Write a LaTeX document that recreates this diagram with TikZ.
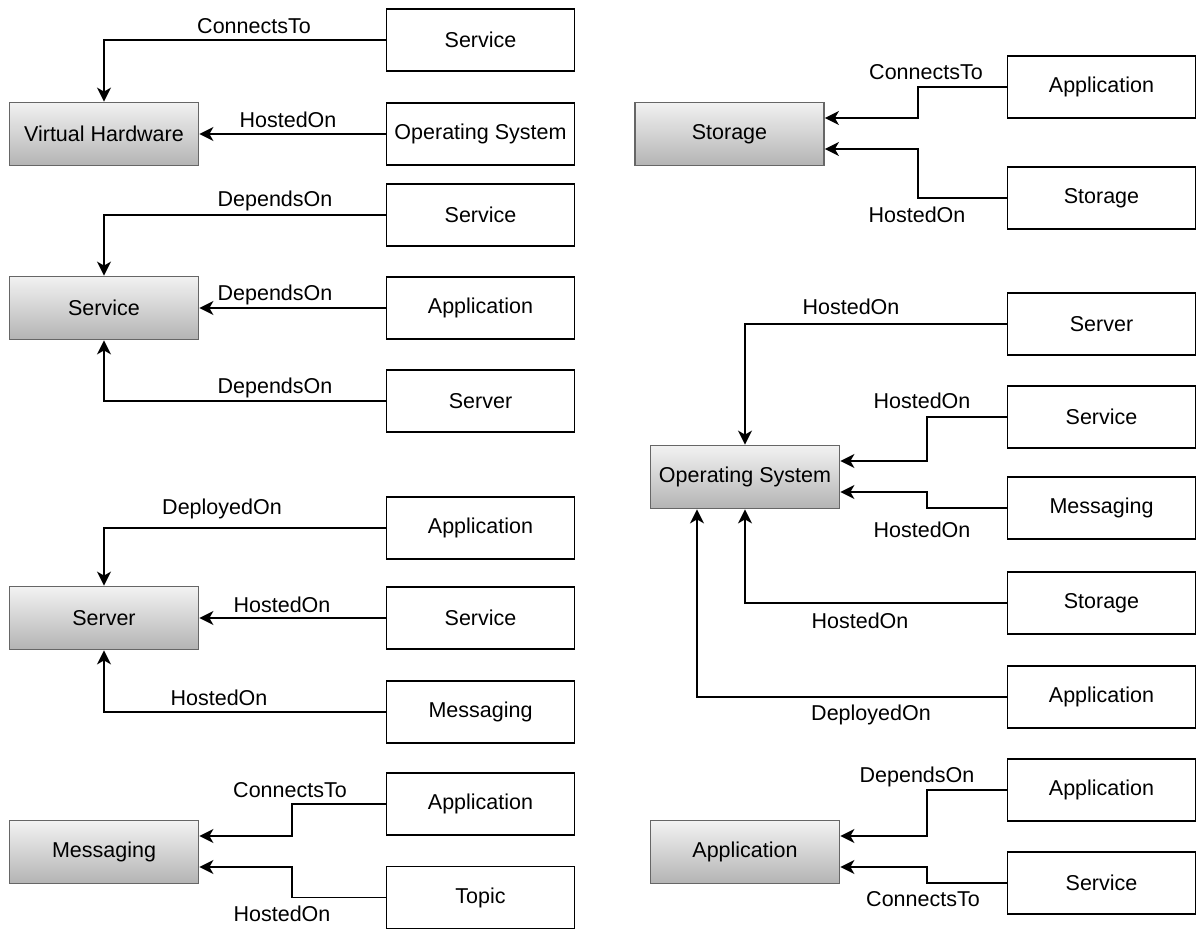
\documentclass[tikz,border=0pt]{standalone}
\usepackage{fontspec}
\setmainfont{Liberation Sans}
\usetikzlibrary{arrows.meta,calc}
\definecolor{edgegrey}{HTML}{666666}
\definecolor{topgrey}{HTML}{F2F2F2}
\definecolor{botgrey}{HTML}{B3B3B3}
\begin{document}
\begin{tikzpicture}[x=1pt,y=-1pt,
  every node/.style={font=\fontsize{21.5}{26}\selectfont},
  greybox/.style={draw=edgegrey, line width=1.8pt, top color=topgrey, bottom color=botgrey, minimum width=189pt, minimum height=63pt, inner sep=0pt},
  whitebox/.style={draw=black, line width=1.8pt, fill=white, minimum width=188pt, minimum height=62pt, inner sep=0pt},
  conn/.style={line width=1.8pt, -{Stealth[length=14pt,width=14pt,inset=4pt]}},
  lbl/.style={inner sep=0pt}]
\useasboundingbox (0,0) rectangle (1197,929);

% ---------- left column ----------
\node[greybox] (vh) at (104,134) {Virtual Hardware};
\node[whitebox] (ls1) at (480.5,40) {Service};
\node[whitebox] (los) at (480.5,134) {Operating System};
\node[greybox] (svc) at (104,308) {Service};
\node[whitebox] (ls2) at (480.5,215) {Service};
\node[whitebox] (lapp1) at (480.5,308) {Application};
\node[whitebox] (lsrv) at (480.5,401) {Server};
\node[greybox] (srv) at (104,618) {Server};
\node[whitebox] (lapp2) at (480.5,528) {Application};
\node[whitebox] (ls3) at (480.5,618) {Service};
\node[whitebox] (lmsg) at (480.5,712) {Messaging};
\node[greybox] (msg) at (104,852) {Messaging};
\node[whitebox] (lapp3) at (480.5,804) {Application};
\node[whitebox] (ltopic) at (480.5,897.5) {Topic};

\coordinate (lbend) at (292,0);

\draw[conn] (ls1.west) -| (vh.north);
\draw[conn] (los.west) -- (vh.east);
\draw[conn] (ls2.west) -| (svc.north);
\draw[conn] (lapp1.west) -- (svc.east);
\draw[conn] (lsrv.west) -| (svc.south);
\draw[conn] (lapp2.west) -| (srv.north);
\draw[conn] (ls3.west) -- (srv.east);
\draw[conn] (lmsg.west) -| (srv.south);
\draw[conn] (lapp3.west) -- (lapp3.west -| lbend) |- ([yshift=16pt]msg.east);
\draw[conn] (ltopic.west) -- (ltopic.west -| lbend) |- ([yshift=-15pt]msg.east);

\node[lbl] (t1) at (254,26) {ConnectsTo};
\node[lbl] (t2) at (288,120) {HostedOn};
\node[lbl] (t3) at (275,201) {DependsOn};
\node[lbl] (t4) at (275,295) {DependsOn};
\node[lbl] (t5) at (275,388) {DependsOn};
\node[lbl] (t6) at (222,509) {DeployedOn};
\node[lbl] (t7) at (282,605) {HostedOn};
\node[lbl] (t8) at (219,698) {HostedOn};
\node[lbl] (t9) at (290,790) {ConnectsTo};
\node[lbl] (t10) at (282,914) {HostedOn};

% ---------- right column ----------
\node[greybox] (sto) at (729.5,134) {Storage};
\node[whitebox] (rapp1) at (1101.5,87) {Application};
\node[whitebox] (rsto1) at (1101.5,198) {Storage};
\node[greybox] (os) at (745,477) {Operating System};
\node[whitebox] (rsrv) at (1101.5,324) {Server};
\node[whitebox] (rsvc1) at (1101.5,417) {Service};
\node[whitebox] (rmsg) at (1101.5,508) {Messaging};
\node[whitebox] (rsto2) at (1101.5,603) {Storage};
\node[whitebox] (rapp2) at (1101.5,697) {Application};
\node[greybox] (app) at (745,852) {Application};
\node[whitebox] (rapp3) at (1101.5,790) {Application};
\node[whitebox] (rsvc2) at (1101.5,883) {Service};

\coordinate (rbendA) at (918,0);
\coordinate (rbendB) at (927,0);
\coordinate (osleft) at (697,0);

\draw[conn] (rapp1.west) -- (rapp1.west -| rbendA) |- ([yshift=16pt]sto.east);
\draw[conn] (rsto1.west) -- (rsto1.west -| rbendA) |- ([yshift=-15pt]sto.east);
\draw[conn] (rsrv.west) -| (os.north);
\draw[conn] (rsvc1.west) -- (rsvc1.west -| rbendB) |- ([yshift=16pt]os.east);
\draw[conn] (rmsg.west) -- (rmsg.west -| rbendB) |- ([yshift=-15pt]os.east);
\draw[conn] (rsto2.west) -| (os.south);
\draw[conn] (rapp2.west) -| (os.south -| osleft);
\draw[conn] (rapp3.west) -- (rapp3.west -| rbendB) |- ([yshift=16pt]app.east);
\draw[conn] (rsvc2.west) -- (rsvc2.west -| rbendB) |- ([yshift=-15pt]app.east);

\node[lbl] (r1) at (926,72) {ConnectsTo};
\node[lbl] (r2) at (917,215) {HostedOn};
\node[lbl] (r3) at (851,307) {HostedOn};
\node[lbl] (r4) at (922,401) {HostedOn};
\node[lbl] (r5) at (922,530) {HostedOn};
\node[lbl] (r6) at (860,621) {HostedOn};
\node[lbl] (r7) at (871,715) {DeployedOn};
\node[lbl] (r8) at (917,777) {DependsOn};
\node[lbl] (r9) at (923,899) {ConnectsTo};
\end{tikzpicture}
\end{document}
